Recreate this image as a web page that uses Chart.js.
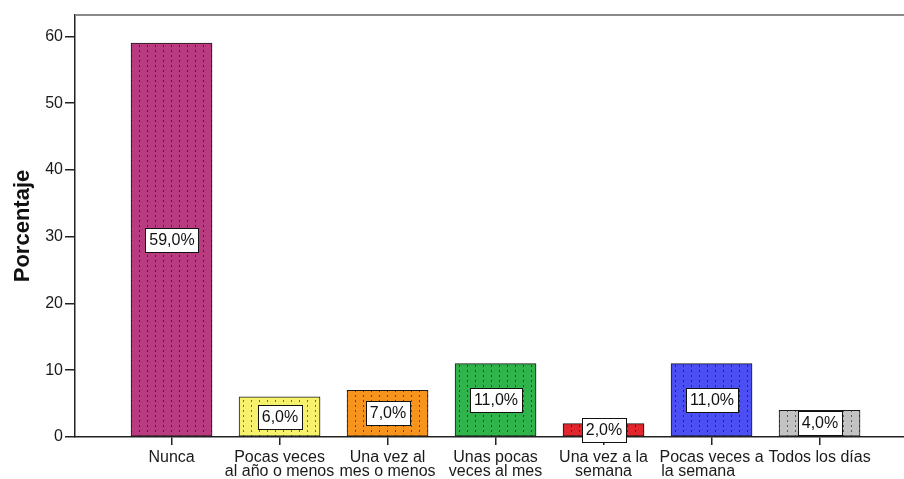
<!DOCTYPE html>
<html>
<head>
<meta charset="utf-8">
<script src="https://cdn.jsdelivr.net/npm/chart.js@4.4.1/dist/chart.umd.min.js"></script>
<style>
  html, body { margin: 0; padding: 0; background: #fff; }
  canvas { display: block; }
</style>
</head>
<body>
<canvas id="freqChart" width="904" height="479"></canvas>
<script>
// --- data ---
const categories = [
    'Nunca',
    ['Pocas veces', 'al año o menos'],
    ['Una vez al', 'mes o menos'],
    ['Unas pocas', 'veces al mes'],
    ['Una vez a la', 'semana'],
    ['Pocas veces a', 'la semana      '],
    'Todos los días'
];
const percentages = [59.0, 6.0, 7.0, 11.0, 2.0, 11.0, 4.0];
const barColors = ['#b83c7f', '#f6f26c', '#f7941e', '#2fb34b', '#e2262d', '#4c4ff3', '#c3c3c3'];
const yTicks = [0, 10, 20, 30, 40, 50, 60];

const FONT = '"Liberation Sans", Arial, sans-serif';

// dotted fill like the SPSS bar style
function dotPattern(color) {
    const c = document.createElement('canvas');
    c.width = 8; c.height = 5;
    const g = c.getContext('2d');
    g.fillStyle = color;
    g.fillRect(0, 0, 8, 5);
    g.fillStyle = 'rgba(0,0,0,0.55)';
    g.fillRect(3, 0, 1, 2);
    return g.createPattern(c, 'repeat');
}

// gray frame line across the top of the plot
const topLine = {
    id: 'topLine',
    afterDraw(chart) {
        const { ctx, chartArea } = chart;
        ctx.save();
        ctx.strokeStyle = '#8a8a8a';
        ctx.lineWidth = 2;
        ctx.beginPath();
        ctx.moveTo(chartArea.left, chartArea.top);
        ctx.lineTo(chartArea.right, chartArea.top);
        ctx.stroke();
        ctx.restore();
    }
};

// boxed percentage labels in the middle of each bar
const valueBoxes = {
    id: 'valueBoxes',
    afterDatasetsDraw(chart) {
        const ctx = chart.ctx;
        const meta = chart.getDatasetMeta(0);
        ctx.save();
        ctx.font = '16px ' + FONT;
        ctx.textAlign = 'center';
        ctx.textBaseline = 'middle';
        meta.data.forEach((bar, i) => {
            const txt = percentages[i].toFixed(1).replace('.', ',') + '%';
            const w = Math.round(ctx.measureText(txt).width) + 8;
            const h = 24;
            const cx = Math.round(bar.x);
            const cy = Math.round((bar.y + bar.base) / 2);
            const x0 = cx - Math.round(w / 2) + 0.5;
            const y0 = cy - Math.round(h / 2) + 0.5;
            ctx.fillStyle = '#fff';
            ctx.fillRect(x0, y0, w, h);
            ctx.strokeStyle = '#111';
            ctx.lineWidth = 1;
            ctx.strokeRect(x0, y0, w, h);
            ctx.fillStyle = '#111';
            ctx.fillText(txt, cx, cy + 1);
        });
        ctx.restore();
    }
};

new Chart(document.getElementById('freqChart'), {
    type: 'bar',
    data: {
        datasets: [{
            data: percentages.map((v, i) => ({ x: i, y: v })),
            backgroundColor: barColors.map(dotPattern),
            borderColor: '#1a1a1a',
            borderWidth: 1,
            borderSkipped: false,
            barThickness: 81
        }]
    },
    options: {
        responsive: false,
        animation: false,
        layout: { padding: { top: 15, right: 0, bottom: 0, left: 0 } },
        plugins: { legend: { display: false }, tooltip: { enabled: false } },
        scales: {
            x: {
                type: 'linear',
                offset: false,
                min: -0.894,
                max: 6.782,
                afterBuildTicks: s => { s.ticks = categories.map((_, i) => ({ value: i })); },
                afterFit: s => { s.height = 42; },
                ticks: {
                    callback: v => categories[v],
                    autoSkip: false, maxRotation: 0, minRotation: 0,
                    color: '#1a1a1a', padding: 5,
                    font: { family: FONT, size: 16, lineHeight: 0.9 }
                },
                grid: { offset: false, drawOnChartArea: false, tickLength: 8, color: '#222', lineWidth: 1.5 },
                border: { color: '#222', width: 1.5 }
            },
            y: {
                min: 0,
                max: 63.2,
                afterBuildTicks: s => { s.ticks = yTicks.map(v => ({ value: v })); },
                afterFit: s => { s.width = 75; },
                ticks: {
                    color: '#1a1a1a', padding: 2,
                    font: { family: FONT, size: 16 }
                },
                grid: { drawOnChartArea: false, tickLength: 10, color: '#222', lineWidth: 1.5 },
                border: { color: '#222', width: 1.5 },
                title: {
                    display: true, text: 'Porcentaje', color: '#111',
                    font: { family: FONT, size: 22, weight: 'bold' },
                    padding: { top: 10, bottom: 0 }
                }
            }
        }
    },
    plugins: [topLine, valueBoxes]
});
</script>
</body>
</html>
